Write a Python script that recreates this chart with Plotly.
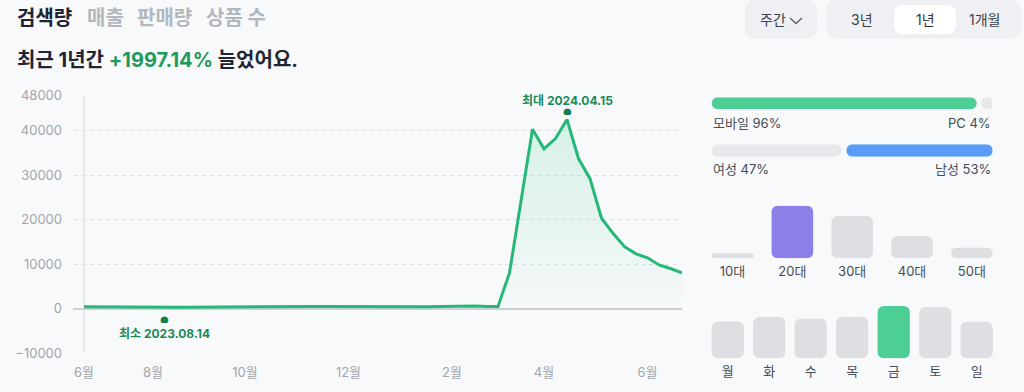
import pandas as pd
import plotly.graph_objects as go

# ---------------- data ----------------
weeks = pd.date_range("2023-06-26", periods=53, freq="7D")
search = [380, 350, 330, 310, 300, 280, 260, 230, 260, 290, 320, 350, 380, 400, 420, 430,
          410, 400, 420, 450, 470, 460, 440, 430, 420, 410, 400, 390, 380, 400, 420, 450,
          500, 560, 540, 480, 470, 8000, 24000, 40300, 35900, 38200, 42500, 33700, 29200,
          20300, 16900, 13900, 12300, 11400, 9800, 9000, 8000]
month_tickvals = ["2023-06-26", "2023-08-07", "2023-10-02", "2023-12-04",
                  "2024-02-05", "2024-04-01", "2024-06-03"]
month_ticktext = ["6월", "8월", "10월", "12월", "2월", "4월", "6월"]
y_tickvals = [-10000, 0, 10000, 20000, 30000, 40000, 48000]

tabs = ["검색량", "매출", "판매량", "상품 수"]
growth_text = "+1997.14%"
periods = ["3년", "1년", "1개월"]

device_labels = ["모바일", "PC"]
device_pct = [96, 4]
gender_labels = ["여성", "남성"]
gender_pct = [47, 53]
age_labels = ["10대", "20대", "30대", "40대", "50대"]
age_share = [3.8, 40.0, 32.2, 17.0, 8.0]
day_labels = ["월", "화", "수", "목", "금", "토", "일"]
day_share = [12.3, 13.8, 13.2, 13.8, 17.5, 17.2, 12.2]

# ---------------- style ----------------
W, H = 1024, 392
BG = "#f8f9fb"
FONT = "Inter, Noto Sans CJK KR, sans-serif"
DARK = "#1f2533"
LINE_GREEN = "#26b878"
DOT_GREEN = "#11804f"
BAR_GREEN = "#4dce95"
PURPLE = "#8c80e8"
BLUE = "#5a9cf5"
GRAY_BAR = "#dedfe3"
GRAY_H = "#e7e8eb"
TXT = "#474c55"


def px(x):
    return x / W


def py(y):
    return (H - y) / H


fig = go.Figure()

# main line
fig.add_trace(go.Scatter(
    x=weeks, y=search, mode="lines",
    line=dict(color=LINE_GREEN, width=3),
    fill="tozeroy",
    fillgradient=dict(type="vertical",
                      colorscale=[[0, "rgba(80,205,150,0.02)"], [1, "rgba(80,205,150,0.20)"]]),
    xaxis="x", yaxis="y", hoverinfo="skip"))


def add_bars(pos, start, end, colors, xa, ya, orient, width, radius):
    size = [e - s for s, e in zip(start, end)]
    if orient == "v":
        fig.add_trace(go.Bar(x=pos, y=size, base=start, width=width,
                             marker=dict(color=colors, cornerradius=radius, line=dict(width=0)),
                             xaxis=xa, yaxis=ya, hoverinfo="skip"))
    else:
        fig.add_trace(go.Bar(y=pos, x=size, base=start, width=width, orientation="h",
                             marker=dict(color=colors, cornerradius=radius, line=dict(width=0)),
                             xaxis=xa, yaxis=ya, hoverinfo="skip"))


# age bars
age_colors = [PURPLE if v == max(age_share) else GRAY_BAR for v in age_share]
add_bars(age_labels, [0] * len(age_share), age_share, age_colors, "x2", "y2", "v", 0.695, 6)
# day bars
day_colors = [BAR_GREEN if v == max(day_share) else GRAY_BAR for v in day_share]
add_bars(day_labels, [0] * len(day_share), day_share, day_colors, "x3", "y3", "v", 0.776, 6)

# horizontal share bars with a gap between segments
GAP = 1.811


def segs(p):
    return [0, p[0] + GAP], [p[0], p[0] + GAP + p[1]]


s, e = segs(device_pct)
add_bars([0, 0], s, e, [BAR_GREEN, GRAY_H], "x4", "y4", "h", 1, 6)
s, e = segs(gender_pct)
add_bars([0, 0], s, e, [GRAY_H, BLUE], "x5", "y5", "h", 1, 6)

hidden = dict(showgrid=False, zeroline=False, showline=False, showticklabels=False,
              fixedrange=True, automargin=False)

x_start = weeks[0] - pd.Timedelta(days=6.7)

fig.update_layout(
    width=W, height=H,
    margin=dict(l=0, r=0, t=0, b=0, autoexpand=False),
    paper_bgcolor=BG, plot_bgcolor=BG,
    showlegend=False, hovermode=False, barmode="overlay",
    font=dict(family=FONT, color=DARK),
    xaxis=dict(domain=[px(73), px(682)], type="date", automargin=False,
               range=[x_start, weeks[-1]],
               tickvals=month_tickvals, ticktext=month_ticktext,
               showgrid=False, zeroline=False, showline=False,
               ticks="", ticklabelstandoff=10,
               tickfont=dict(size=13, color="#a2a6ac", family=FONT)),
    yaxis=dict(domain=[py(353), py(95)], range=[-10000, 48000], automargin=False,
               tickvals=y_tickvals, tickformat="d", showgrid=True, gridcolor="#dcdfe3",
               griddash="4px,4px", gridwidth=1,
               zeroline=True, zerolinecolor="#cdd0d5", zerolinewidth=2,
               showline=False, ticks="", ticklabelstandoff=10,
               tickfont=dict(size=13, color="#a2a6ac", family=FONT)),
    xaxis2=dict(domain=[px(702.6), px(1001.8)], anchor="y2", range=[-0.5, 4.5],
                showgrid=False, zeroline=False, showline=False, ticks="", automargin=False,
                ticklabelstandoff=4, fixedrange=True,
                tickfont=dict(size=13, color=TXT, family=FONT)),
    yaxis2=dict(domain=[py(258.3), py(205.7)], anchor="x2", range=[0, 40], **hidden),
    xaxis3=dict(domain=[px(706.95), px(997.45)], anchor="y3", range=[-0.5, 6.5],
                showgrid=False, zeroline=False, showline=False, ticks="", automargin=False,
                ticklabelstandoff=4, fixedrange=True,
                tickfont=dict(size=13, color=TXT, family=FONT)),
    yaxis3=dict(domain=[py(358.3), py(306)], anchor="x3", range=[0, 17.5], **hidden),
    xaxis4=dict(domain=[px(711.7), px(992.7)], anchor="y4", range=[0, 100 + GAP], **hidden),
    yaxis4=dict(domain=[py(109.3), py(97.3)], anchor="x4", range=[-0.5, 0.5], **hidden),
    xaxis5=dict(domain=[px(711.7), px(992.7)], anchor="y5", range=[0, 100 + GAP], **hidden),
    yaxis5=dict(domain=[py(156.7), py(144.3)], anchor="x5", range=[-0.5, 0.5], **hidden),
)

# vertical line at first data point
fig.add_shape(type="line", xref="x", yref="y domain", x0=weeks[0], x1=weeks[0], y0=0, y1=1,
              line=dict(color="#d6d9de", width=1), layer="below")


def rrect(x0, y0, x1, y1, r):
    rx, ry = r / W, r / H
    X0, X1, Y0, Y1 = px(x0), px(x1), py(y1), py(y0)  # Y0 bottom, Y1 top
    return (f"M {X0+rx},{Y0} L {X1-rx},{Y0} Q {X1},{Y0} {X1},{Y0+ry} "
            f"L {X1},{Y1-ry} Q {X1},{Y1} {X1-rx},{Y1} L {X0+rx},{Y1} "
            f"Q {X0},{Y1} {X0},{Y1-ry} L {X0},{Y0+ry} Q {X0},{Y0} {X0+rx},{Y0} Z")


for (x0, y0, x1, y1, r, c) in [(745, 0, 817, 38.5, 11, "#eef0f3"),
                               (826, 0, 1021, 38.5, 11, "#eef0f3"),
                               (894, 5, 956, 34, 9, "#ffffff")]:
    fig.add_shape(type="path", path=rrect(x0, y0, x1, y1, r), xref="paper", yref="paper",
                  fillcolor=c, line=dict(width=0), layer="below")
# chevron of the dropdown
fig.add_shape(type="path", xref="paper", yref="paper",
              path=f"M {px(790)},{py(18)} L {px(796)},{py(23.5)} L {px(802)},{py(18)}",
              line=dict(color="#5b6069", width=1.3))

ann = []


def text(x, y, s, size, color=DARK, anchor="left", bold=False, family=FONT):
    ann.append(dict(x=px(x), y=py(y), xref="paper", yref="paper", xanchor=anchor,
                    yanchor="middle", showarrow=False,
                    text=f"<b>{s}</b>" if bold else s,
                    font=dict(size=size, color=color, family=family)))


# header tabs
tab_x = [15, 85, 135, 204]
for i, (t, x) in enumerate(zip(tabs, tab_x)):
    text(x, 18, t, 20, DARK if i == 0 else "#b3b8bf", bold=True)

text(15, 60, f"최근 1년간 <span style='color:#1f9a60'>{growth_text}</span> 늘었어요.", 20, DARK,
     bold=True)

text(758, 20, "주간", 14, "#3b4048")
for p, x in zip(periods, [862, 925.5, 984.5]):
    text(x, 20, p, 14, "#2e333b" if p == "1년" else "#3b4048", anchor="center")

# share labels
text(711, 122.7, f"{device_labels[0]} {device_pct[0]}%", 13, TXT)
text(993, 122.7, f"{device_labels[1]} {device_pct[1]}%", 13, TXT, anchor="right")
text(711, 169.3, f"{gender_labels[0]} {gender_pct[0]}%", 13, TXT)
text(993, 169.3, f"{gender_labels[1]} {gender_pct[1]}%", 13, TXT, anchor="right")

# max / min markers
imax = max(range(len(search)), key=lambda i: search[i])
imin = min(range(len(search)), key=lambda i: search[i])
for i, dot_shift, lab_shift, lab in [(imax, 7.5, 19.5, "최대"), (imin, -12.5, -25.5, "최소")]:
    d = weeks[i]
    ann.append(dict(x=d, y=search[i], xref="x", yref="y", showarrow=False, yshift=dot_shift,
                    text="●", font=dict(size=10, color=DOT_GREEN, family="DejaVu Sans"),
                    width=9, height=7, borderpad=0,
                    xanchor="center", yanchor="middle"))
    ann.append(dict(x=d, y=search[i], xref="x", yref="y", showarrow=False, yshift=lab_shift,
                    text=f"<b>{lab} {d.strftime('%Y.%m.%d')}</b>",
                    font=dict(size=12, color="#1b8a58", family=FONT),
                    height=14, borderpad=0,
                    xanchor="center", yanchor="middle"))

fig.update_layout(annotations=ann)

fig.write_html("out.html", config=dict(displayModeBar=False, staticPlot=True))
